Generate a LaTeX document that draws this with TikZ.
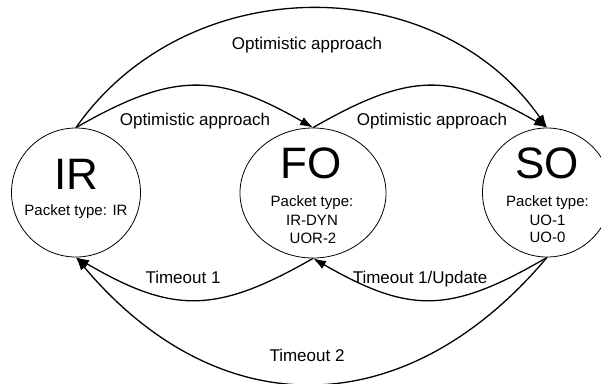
\documentclass[tikz,border=0pt]{standalone}
\usepackage{fontspec}
\setmainfont{Liberation Sans}
\usetikzlibrary{arrows.meta,shapes.geometric}
\begin{document}
\begin{tikzpicture}[x=1pt,y=-1pt,
  state/.style={draw,line width=0.8pt,inner sep=0pt},
  big/.style={font=\fontsize{44}{44}\selectfont,anchor=base,inner sep=0pt},
  info/.style={font=\fontsize{15}{15}\selectfont,anchor=base,inner sep=0pt},
  lbl/.style={font=\fontsize{17}{17}\selectfont,anchor=base,inner sep=0pt},
  trans/.style={line width=1.3pt,-{Latex[length=13pt,width=9pt]}},
]
\useasboundingbox (0,0) rectangle (601,383);

% states
\node[state,circle,minimum size=129pt] (IR) at (76,192.5) {};
\node[state,ellipse,minimum width=146pt,minimum height=130pt] (FO) at (313,193) {};
\node[state,circle,minimum size=129pt] (SO) at (547,192.5) {};

% state texts
\node[big] (IRt) at (76,189) {IR};
\node[info] (IRp) at (76,215) {Packet type: IR};

\node[big] (FOt) at (311,178) {FO};
\node[info] (FOp1) at (312,206.5) {Packet type:};
\node[info] (FOp2) at (312,225) {IR-DYN};
\node[info] (FOp3) at (313,243.5) {UOR-2};

\node[big] (SOt) at (547,178) {SO};
\node[info] (SOp1) at (547.5,206.5) {Packet type:};
\node[info] (SOp2) at (547.5,225) {UO-1};
\node[info] (SOp3) at (547.5,242) {UO-0};

% transitions
\draw[trans] (IR.north) .. controls (187,-31) and (436,-31) .. (SO.north);
\draw[trans] (IR.north) .. controls (173,72) and (216,72) .. (FO.north);
\draw[trans] (FO.north) .. controls (410,72) and (450,72) .. (SO.north);
\draw[trans] (FO.south) .. controls (216,314) and (173,314) .. (IR.south);
\draw[trans] (SO.south) .. controls (450,314) and (410,314) .. (FO.south);
\draw[trans] (SO.south) .. controls (405,426) and (218,426) .. (IR.south);

% transition labels
\node[lbl] (l1) at (307,49) {Optimistic approach};
\node[lbl] (l2) at (195,125) {Optimistic approach};
\node[lbl] (l3) at (432,125) {Optimistic approach};
\node[lbl] (l4) at (183,283) {Timeout 1};
\node[lbl] (l5) at (420,283) {Timeout 1/Update};
\node[lbl] (l6) at (307,361) {Timeout 2};
\end{tikzpicture}
\end{document}
